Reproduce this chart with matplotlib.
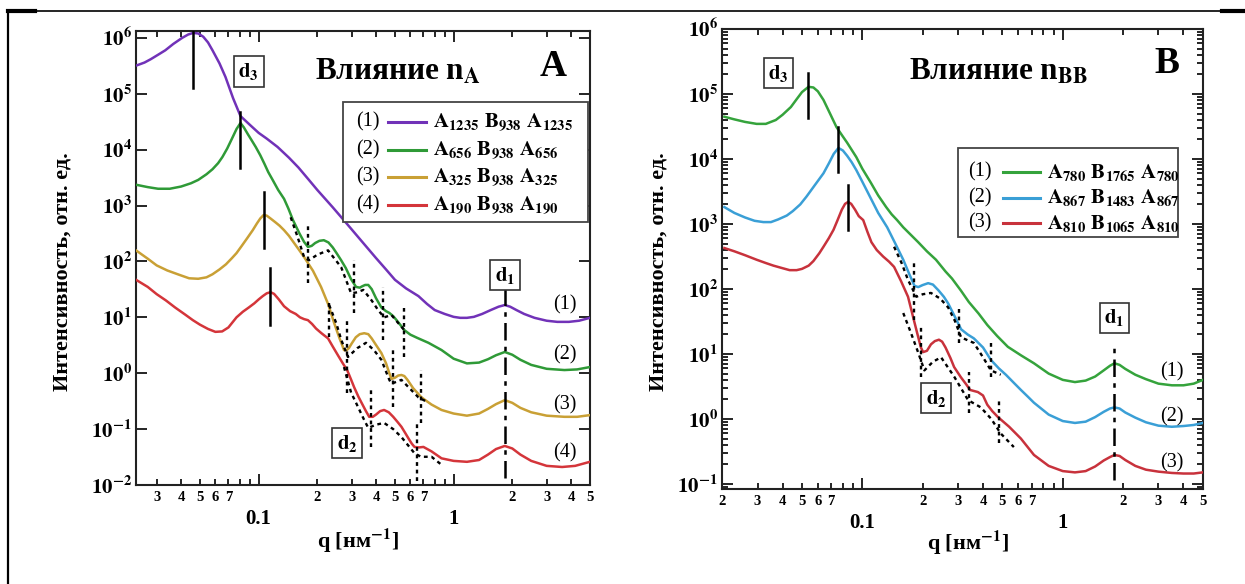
# Рисунок: кривые интенсивности рассеяния I(q) для триблок-сополимеров ABA
# Панель A - влияние n_A, панель B - влияние n_BB

import numpy as np
import matplotlib
matplotlib.use("Agg")
import matplotlib.pyplot as plt
from matplotlib.lines import Line2D
from matplotlib.patches import Rectangle
from matplotlib.ticker import FixedLocator, FuncFormatter, LogLocator, NullFormatter, NullLocator

plt.rcParams["font.family"] = ["Liberation Serif", "DejaVu Serif"]
plt.rcParams["font.weight"] = "bold"
plt.rcParams["mathtext.fontset"] = "stix"

# --- Панель A: четыре кривые (1)-(4) ---
qA1 = [0.0238, 0.026, 0.028, 0.0305, 0.0332, 0.0365, 0.0405, 0.0435, 0.0462, 0.049, 0.052,
       0.055, 0.058, 0.063, 0.0676, 0.074, 0.0807, 0.09, 0.10, 0.11, 0.125, 0.143, 0.16, 0.18,
       0.20, 0.24, 0.281, 0.34, 0.40, 0.45, 0.50, 0.57, 0.66, 0.73, 0.80, 0.9, 1.0, 1.08, 1.17,
       1.27, 1.4, 1.55, 1.7, 1.83, 1.95, 2.1, 2.3, 2.6, 3.0, 3.4, 3.9, 4.4, 5.0]
IA1 = [3.24e5, 3.63e5, 4.17e5, 5.0e5, 6.0e5, 7.8e5, 1.0e6, 1.15e6, 1.23e6, 1.20e6, 1.05e6,
       8.3e5, 6.0e5, 3.5e5, 2.0e5, 8.3e4, 4.0e4, 2.8e4, 2.0e4, 1.58e4, 1.12e4, 7.2e3, 4.8e3, 2.95e3,
       1.9e3, 930, 490, 224, 115, 72, 47, 33, 24, 17.4, 13.5, 11.5, 10.2, 9.8, 9.8,
       10.2, 11.5, 13.5, 15.5, 16.6, 15.5, 13.5, 11.5, 9.8, 8.7, 8.3, 8.3, 8.7, 9.8]

qA2 = [0.0238, 0.027, 0.0305, 0.035, 0.040, 0.045, 0.049, 0.054, 0.058, 0.062, 0.0652, 0.069,
       0.073, 0.077, 0.0807, 0.084, 0.088, 0.092, 0.0966, 0.102, 0.107, 0.112, 0.118, 0.126,
       0.135, 0.142, 0.150, 0.162, 0.171, 0.179, 0.187, 0.195, 0.205, 0.216, 0.228, 0.24, 0.252,
       0.265, 0.28, 0.298, 0.316, 0.33, 0.34, 0.352, 0.365, 0.38, 0.40, 0.426, 0.45, 0.468, 0.49,
       0.51, 0.535, 0.559, 0.60, 0.65, 0.743, 0.867, 1.0, 1.17, 1.35, 1.5, 1.65, 1.83, 2.0, 2.2,
       2.5, 3.0, 3.7, 4.3, 5.0]
IA2 = [2340, 2140, 2000, 2000, 2190, 2510, 2880, 3630, 4470, 5750, 7400, 1.05e4,
       1.58e4, 2.34e4, 3.0e4, 2.5e4, 1.9e4, 1.48e4, 1.12e4, 7940, 5620, 3980, 2880, 1900,
       1320, 890, 550, 316, 224, 182, 190, 214, 234, 240, 219, 178, 138,
       105, 76, 48, 35, 34, 36, 38, 38, 32, 22, 15, 12.9, 12, 10.5,
       8.9, 7.2, 5.9, 4.9, 4.3, 3.5, 2.6, 1.82, 1.5, 1.55, 1.78, 2.1, 2.4, 2.14, 1.74,
       1.41, 1.2, 1.14, 1.17, 1.29]

qA3 = [0.0235, 0.027, 0.030, 0.034, 0.039, 0.044, 0.049, 0.054, 0.058, 0.063, 0.068, 0.073,
       0.077, 0.082, 0.0875, 0.0933, 0.098, 0.102, 0.106, 0.110, 0.115, 0.122, 0.128, 0.135,
       0.143, 0.152, 0.161, 0.171, 0.19, 0.209, 0.227, 0.244, 0.26, 0.268, 0.274, 0.282, 0.29,
       0.30, 0.315, 0.33, 0.348, 0.365, 0.38, 0.40, 0.426, 0.45, 0.468, 0.48, 0.50, 0.52, 0.54,
       0.559, 0.58, 0.62, 0.684, 0.77, 0.867, 1.0, 1.17, 1.35, 1.5, 1.65, 1.83, 2.0, 2.2, 2.5,
       3.0, 3.7, 4.3, 5.0]
IA3 = [158, 112, 85, 69, 58, 50, 49, 52, 59, 72, 89, 115,
       141, 191, 263, 363, 479, 589, 676, 661, 589, 501, 437, 363,
       288, 214, 162, 120, 68, 35, 17.4, 7.9, 4.2, 3.2, 2.6, 2.57, 2.8,
       3.4, 4.4, 5.0, 5.2, 5.0, 4.2, 3.2, 2.3, 1.51, 1.0, 0.79, 0.83, 0.91, 0.93,
       0.89, 0.76, 0.54, 0.37, 0.275, 0.22, 0.19, 0.174, 0.19, 0.23, 0.28, 0.33, 0.295, 0.24, 0.2,
       0.174, 0.166, 0.166, 0.178]

qA4 = [0.0235, 0.027, 0.030, 0.0335, 0.0373, 0.042, 0.046, 0.050, 0.055, 0.060, 0.065, 0.070,
       0.077, 0.083, 0.089, 0.095, 0.100, 0.105, 0.110, 0.115, 0.120, 0.127, 0.135, 0.145, 0.155,
       0.163, 0.171, 0.179, 0.188, 0.197, 0.21, 0.227, 0.24, 0.255, 0.27, 0.285, 0.297, 0.309,
       0.325, 0.34, 0.355, 0.369, 0.385, 0.40, 0.42, 0.44, 0.465, 0.49, 0.515, 0.54, 0.565, 0.59,
       0.61, 0.63, 0.665, 0.70, 0.77, 0.867, 1.0, 1.17, 1.35, 1.5, 1.65, 1.83, 2.0, 2.2, 2.5,
       3.0, 3.6, 4.2, 5.0]
IA4 = [47, 35, 26, 20, 15, 11.2, 8.9, 7.4, 6.2, 5.5, 5.6, 6.6,
       10, 12.6, 15, 17.8, 20.9, 24, 26.9, 28.2, 26.3, 20.9, 15.8, 12.9, 11.5,
       10, 9.3, 8.9, 7.6, 6.3, 5.2, 4.2, 3.0, 2.1, 1.51, 1.12, 0.79, 0.56,
       0.38, 0.28, 0.21, 0.166, 0.166, 0.182, 0.21, 0.22, 0.2, 0.166, 0.135, 0.11, 0.085, 0.066,
       0.055, 0.048, 0.047, 0.048, 0.04, 0.030, 0.027, 0.026, 0.028, 0.035, 0.044, 0.050, 0.045,
       0.035, 0.027, 0.022, 0.021, 0.022, 0.026]

# пунктирные кривые (модель) в области d2
qA_dot2 = [0.146, 0.158, 0.171, 0.181, 0.20, 0.227, 0.265, 0.298, 0.32, 0.344, 0.38, 0.41, 0.44,
           0.48, 0.52, 0.559]
IA_dot2 = [617, 282, 120, 105, 132, 158, 79, 27, 28, 31, 20, 13.5, 10, 11, 7.9, 5.9]
qA_dot3 = [0.23, 0.25, 0.265, 0.287, 0.32, 0.355, 0.39, 0.426, 0.468, 0.48, 0.54, 0.60, 0.66, 0.74]
IA_dot3 = [16.6, 7.9, 4.0, 1.95, 2.8, 3.5, 2.6, 1.74, 0.76, 0.65, 0.76, 0.52, 0.37, 0.30]
qA_dot4 = [0.274, 0.298, 0.325, 0.348, 0.365, 0.40, 0.44, 0.49, 0.54, 0.63, 0.68, 0.77, 0.867]
IA_dot4 = [1.29, 0.45, 0.24, 0.145, 0.105, 0.12, 0.129, 0.10, 0.072, 0.037, 0.032, 0.032, 0.023]

# вертикальные метки: q, верх, низ
markA_d3 = [(0.0462, 1.33e6, 1.26e5), (0.0807, 4.7e4, 4.7e3), (0.106, 1.74e3, 174), (0.115, 76, 7.2)]
markA_d2 = [(0.179, 490, 41), (0.309, 105, 12), (0.435, 35, 3.9), (0.559, 15, 1.95),
            (0.23, 18, 4.5), (0.284, 8.9, 0.45), (0.378, 0.56, 0.048), (0.49, 3.0, 0.25),
            (0.684, 1.15, 0.13), (0.646, 0.13, 0.012)]
markA_d1 = (1.83, 35, 0.0133)

labelsA = [r"$\mathbf{A_{1235}\ B_{938}\ A_{1235}}$", r"$\mathbf{A_{656}\ B_{938}\ A_{656}}$",
           r"$\mathbf{A_{325}\ B_{938}\ A_{325}}$", r"$\mathbf{A_{190}\ B_{938}\ A_{190}}$"]
colorsA = ["#7132b8", "#2f9a37", "#c9a035", "#d4353a"]

# --- Панель B: три кривые (1)-(3) ---
qB1 = [0.0205, 0.023, 0.026, 0.0297, 0.033, 0.037, 0.040, 0.044, 0.047, 0.050, 0.0539, 0.057,
       0.060, 0.064, 0.069, 0.0743, 0.079, 0.084, 0.0933, 0.10, 0.11, 0.12, 0.1315, 0.14, 0.149,
       0.160, 0.175, 0.19, 0.21, 0.233, 0.26, 0.28, 0.31, 0.34, 0.38, 0.42, 0.47, 0.532, 0.62,
       0.718, 0.85, 1.0, 1.15, 1.3, 1.45, 1.6, 1.72, 1.81, 1.92, 2.05, 2.3, 2.6, 3.0, 3.5, 4.0,
       4.5, 5.0]
IB1 = [4.47e4, 4.07e4, 3.72e4, 3.47e4, 3.47e4, 3.98e4, 4.79e4, 6.3e4, 8.3e4, 1.07e5, 1.29e5, 1.26e5,
       1.10e5, 8.1e4, 5.0e4, 3.1e4, 2.34e4, 1.78e4, 1.07e4, 7080, 4370, 2750, 1820, 1410, 1150,
       890, 676, 525, 380, 282, 186, 145, 95, 63, 42, 28, 19, 12.9, 9.5,
       7.2, 5.0, 4.0, 3.7, 3.9, 4.5, 5.6, 6.6, 7.2, 6.8, 5.9, 4.8, 4.1, 3.5, 3.3, 3.3,
       3.5, 4.0]

qB2 = [0.0205, 0.023, 0.026, 0.029, 0.0321, 0.035, 0.038, 0.042, 0.045, 0.049, 0.0526, 0.058,
       0.064, 0.068, 0.072, 0.076, 0.080, 0.084, 0.0885, 0.0933, 0.10, 0.11, 0.12, 0.133, 0.146,
       0.16, 0.172, 0.182, 0.19, 0.20, 0.213, 0.225, 0.24, 0.255, 0.268, 0.29, 0.311, 0.335,
       0.36, 0.40, 0.438, 0.48, 0.52, 0.57, 0.618, 0.67, 0.718, 0.85, 1.0, 1.15, 1.3, 1.45, 1.6,
       1.72, 1.81, 1.92, 2.05, 2.3, 2.6, 3.0, 3.5, 4.0, 4.5, 5.0]
IB2 = [1820, 1480, 1260, 1120, 1070, 1070, 1175, 1350, 1580, 2000, 2630, 3980,
       6030, 8510, 1.2e4, 1.48e4, 1.35e4, 1.12e4, 8910, 6760, 4470, 2510, 1480, 891, 501,
       282, 166, 112, 107, 115, 123, 117, 95, 76, 60, 37, 24, 20,
       17.4, 12.6, 8.1, 6.0, 4.8, 3.6, 2.8, 2.2, 1.78, 1.17, 0.93, 0.87, 0.91, 1.07, 1.29,
       1.45, 1.51, 1.45, 1.26, 1.05, 0.89, 0.79, 0.76, 0.78, 0.81, 0.87]

qB3 = [0.0205, 0.023, 0.026, 0.0297, 0.033, 0.036, 0.040, 0.0434, 0.047, 0.050, 0.054, 0.057,
       0.061, 0.064, 0.068, 0.0718, 0.075, 0.079, 0.082, 0.085, 0.088, 0.092, 0.096, 0.101,
       0.106, 0.111, 0.118, 0.127, 0.136, 0.144, 0.156, 0.169, 0.18, 0.19, 0.196, 0.201, 0.21,
       0.22, 0.23, 0.241, 0.25, 0.26, 0.275, 0.287, 0.31, 0.33, 0.345, 0.36, 0.377, 0.40, 0.42,
       0.445, 0.475, 0.54, 0.618, 0.718, 0.85, 1.0, 1.15, 1.3, 1.45, 1.6, 1.72, 1.81, 1.92,
       2.05, 2.3, 2.6, 3.0, 3.5, 4.0, 4.5, 5.0]
IB3 = [427, 380, 331, 282, 251, 229, 209, 195, 195, 204, 229, 269,
       355, 447, 603, 813, 1120, 1660, 2040, 2190, 2040, 1660, 1320, 1150,
       759, 525, 398, 316, 263, 219, 132, 76, 35, 18.2, 12.6, 10.7, 11.2,
       14.1, 15.8, 16.6, 15.5, 12.6, 8.7, 6.3, 4.4, 3.4, 2.8, 2.7, 2.6, 2.3, 1.66,
       1.32, 1.07, 0.76, 0.50, 0.28, 0.19, 0.158, 0.151, 0.158, 0.186, 0.23, 0.26, 0.28, 0.27,
       0.234, 0.19, 0.166, 0.155, 0.148, 0.145, 0.145, 0.151]

qB_dot2 = [0.144, 0.157, 0.169, 0.186, 0.20, 0.22, 0.245, 0.268, 0.29, 0.311, 0.36, 0.40, 0.438, 0.49]
IB_dot2 = [447, 251, 138, 76, 83, 87, 71, 52, 32, 18, 14.8, 8.9, 5.6, 4.8]
qB_dot3 = [0.16, 0.175, 0.19, 0.204, 0.225, 0.247, 0.287, 0.337, 0.39, 0.44, 0.49, 0.57]
IB_dot3 = [42.7, 20.9, 10.5, 5.6, 7.6, 8.9, 4.5, 1.95, 1.51, 1.0, 0.60, 0.37]

markB_d3 = [(0.0538, 2.1e5, 4.3e4), (0.076, 3.1e4, 6.3e3), (0.085, 4.0e3, 810)]
markB_d2 = [(0.182, 260, 33), (0.304, 51, 15), (0.438, 15, 4.5), (0.197, 26, 4.5),
            (0.34, 5.3, 1.23), (0.48, 2.1, 0.43)]
markB_d1 = (1.81, 13.8, 0.115)

labelsB = [r"$\mathbf{A_{780}\ B_{1765}\ A_{780}}$", r"$\mathbf{A_{867}\ B_{1483}\ A_{867}}$",
           r"$\mathbf{A_{810}\ B_{1065}\ A_{810}}$"]
colorsB = ["#35a33c", "#3a9fd6", "#c8323c"]

DOT = (0, (1.6, 1.6))
DASHDOT = (0, (7, 2.5, 1.8, 2.5))


def minor_label(v, pos):
    """Подписи малых делений: только цифры 2..7."""
    d = int(round(v / 10 ** np.floor(np.log10(v) + 1e-9)))
    return str(d) if 2 <= d <= 7 else ""


def style_axes(ax, xlim, ylim, y_minor):
    ax.set_xscale("log")
    ax.set_yscale("log")
    ax.set_xlim(*xlim)
    ax.set_ylim(*ylim)
    ax.xaxis.set_major_locator(FixedLocator([0.1, 1.0]))
    ax.xaxis.set_major_formatter(FuncFormatter(lambda v, p: "0.1" if v < 0.5 else "1"))
    ax.xaxis.set_minor_locator(LogLocator(base=10, subs=np.arange(2, 10), numticks=30))
    ax.xaxis.set_minor_formatter(FuncFormatter(minor_label))
    ax.yaxis.set_major_locator(LogLocator(base=10, numticks=20))
    ax.yaxis.set_major_formatter(
        FuncFormatter(lambda v, p: r"$\mathbf{10^{%d}}$" % int(round(np.log10(v)))))
    if y_minor:
        ax.yaxis.set_minor_locator(LogLocator(base=10, subs=np.arange(2, 10), numticks=30))
        ax.yaxis.set_minor_formatter(NullFormatter())
    else:
        ax.yaxis.set_minor_locator(NullLocator())
    ax.tick_params(which="both", direction="in", top=True, right=True, width=1.2)
    ax.tick_params(which="major", length=8)
    ax.tick_params(which="minor", length=4.5)
    ax.tick_params(axis="x", which="minor", labelsize=10.5, pad=4)
    ax.tick_params(axis="x", which="major", labelsize=15, pad=17)
    ax.tick_params(axis="y", which="major", labelsize=15, pad=3)
    for s in ax.spines.values():
        s.set_linewidth(1.5)
        s.set_color("#222222")


def draw_marks(ax, marks, style, lw):
    for q, top, bot in marks:
        ax.plot([q, q], [bot, top], color="black", linestyle=style, lw=lw, zorder=4)


def draw_legend(ax, box, rows, colors, labels, x_num, x_line, x_text):
    x0, y0, x1, y1 = box
    ax.add_patch(Rectangle((x0, y0), x1 - x0, y1 - y0, transform=ax.transAxes,
                           facecolor="white", edgecolor="#444444", lw=1.3, zorder=6))
    for i, (y, c, lab) in enumerate(zip(rows, colors, labels)):
        ax.text(x_num, y, f"({i + 1})", transform=ax.transAxes, ha="center", va="center",
                fontsize=14.5, fontweight="normal", zorder=7)
        ax.plot(x_line, [y, y], color=c, lw=2.2, transform=ax.transAxes, zorder=7)
        ax.text(x_text, y, lab, transform=ax.transAxes, ha="left", va="center",
                fontsize=15, zorder=7)


def box_label(ax, q, i, txt):
    ax.text(q, i, txt, ha="center", va="center", fontsize=15, zorder=8,
            bbox=dict(boxstyle="square,pad=0.22", facecolor="white", edgecolor="#333333", lw=1.2))


def main():
    fig = plt.figure(figsize=(12.45, 5.84), dpi=100)
    axA = fig.add_axes([136 / 1245, 1 - 485 / 584, 454 / 1245, 454 / 584])
    axB = fig.add_axes([722 / 1245, 1 - 489 / 584, 481 / 1245, 460 / 584])

    # ----- Панель A -----
    for q, I, c in zip([qA1, qA2, qA3, qA4], [IA1, IA2, IA3, IA4], colorsA):
        axA.plot(q, I, color=c, lw=1.8, zorder=3)
    for q, I in [(qA_dot2, IA_dot2), (qA_dot3, IA_dot3), (qA_dot4, IA_dot4)]:
        axA.plot(q, I, color="black", linestyle=DOT, lw=1.7, zorder=4)
    draw_marks(axA, markA_d3, "-", 1.8)
    draw_marks(axA, markA_d2, DOT, 1.7)
    draw_marks(axA, [markA_d1], DASHDOT, 1.8)
    style_axes(axA, (0.0235, 5.005), (1e-2, 1.33e6), y_minor=False)

    draw_legend(axA, (0.456, 0.579, 0.996, 0.844), [0.800, 0.738, 0.678, 0.617],
                colorsA, labelsA, 0.511, [0.555, 0.639], 0.655)
    axA.text(0.577, 0.910, "Влияние n$_{\\mathbf{A}}$", transform=axA.transAxes,
             ha="center", va="center", fontsize=22.5)
    axA.text(0.919, 0.921, "A", transform=axA.transAxes, ha="center", va="center", fontsize=27)
    box_label(axA, 0.0888, 2.5e5, r"$\mathbf{d_3}$")
    box_label(axA, 1.83, 57, r"$\mathbf{d_1}$")
    box_label(axA, 0.284, 0.056, r"$\mathbf{d_2}$")
    for k, yv in enumerate([16.6, 2.1, 0.27, 0.037]):
        axA.text(3.73, yv, f"({k + 1})", ha="center", va="center", fontsize=14.5,
                 fontweight="normal")
    axA.text(0.489, -0.123, "q [нм$^{\\mathbf{-1}}$]", transform=axA.transAxes,
             ha="center", va="center", fontsize=16)
    axA.text(-0.161, 0.47, "Интенсивность, отн. ед.", transform=axA.transAxes, rotation=90,
             ha="center", va="center", fontsize=16)

    # ----- Панель B -----
    for q, I, c in zip([qB1, qB2, qB3], [IB1, IB2, IB3], colorsB):
        axB.plot(q, I, color=c, lw=1.8, zorder=3)
    for q, I in [(qB_dot2, IB_dot2), (qB_dot3, IB_dot3)]:
        axB.plot(q, I, color="black", linestyle=DOT, lw=1.7, zorder=4)
    draw_marks(axB, markB_d3, "-", 1.8)
    draw_marks(axB, markB_d2, DOT, 1.7)
    draw_marks(axB, [markB_d1], DASHDOT, 1.8)
    style_axes(axB, (0.01995, 5.005), (0.0838, 1e6), y_minor=True)

    draw_legend(axB, (0.491, 0.548, 0.948, 0.741), [0.689, 0.633, 0.578],
                colorsB, labelsB, 0.536, [0.584, 0.661], 0.676)
    axB.text(0.574, 0.907, "Влияние n$_{\\mathbf{BB}}$", transform=axB.transAxes,
             ha="center", va="center", fontsize=22.5)
    axB.text(0.925, 0.926, "B", transform=axB.transAxes, ha="center", va="center", fontsize=27)
    box_label(axB, 0.0382, 2.1e5, r"$\mathbf{d_3}$")
    box_label(axB, 1.81, 36, r"$\mathbf{d_1}$")
    box_label(axB, 0.233, 2.1, r"$\mathbf{d_2}$")
    for k, yv in enumerate([5.3, 1.07, 0.21]):
        axB.text(3.5, yv, f"({k + 1})", ha="center", va="center", fontsize=14.5,
                 fontweight="normal")
    axB.text(0.511, -0.117, "q [нм$^{\\mathbf{-1}}$]", transform=axB.transAxes,
             ha="center", va="center", fontsize=16)
    axB.text(-0.131, 0.472, "Интенсивность, отн. ед.", transform=axB.transAxes, rotation=90,
             ha="center", va="center", fontsize=16)

    # ----- рамка страницы -----
    ytop = 1 - 11 / 584
    xl = 8 / 1245
    fig.add_artist(Line2D([xl, 1.0], [ytop, ytop], transform=fig.transFigure, color="black", lw=1.2))
    fig.add_artist(Line2D([xl, xl], [0.0, ytop], transform=fig.transFigure, color="black", lw=1.6))
    fig.add_artist(Line2D([xl, 35 / 1245], [ytop, ytop], transform=fig.transFigure, color="black", lw=3))
    fig.add_artist(Line2D([1222 / 1245, 1.0], [ytop, ytop], transform=fig.transFigure, color="black", lw=3))

    fig.savefig("out.png", dpi=100)
    plt.close(fig)


if __name__ == "__main__":
    main()
